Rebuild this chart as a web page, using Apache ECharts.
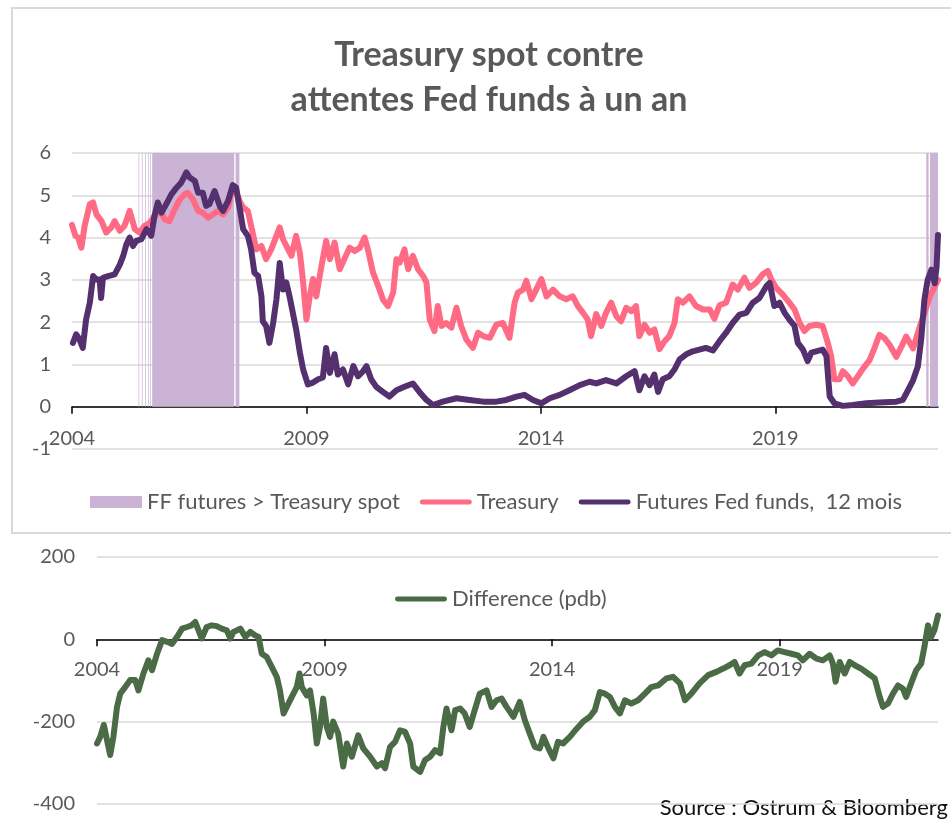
<!DOCTYPE html>
<html><head><meta charset="utf-8">
<script src="https://cdn.jsdelivr.net/npm/echarts@6/dist/echarts.min.js"></script>
<style>html,body{margin:0;padding:0;background:#fff}#c{width:951px;height:829px}</style>
</head><body><div id="c"></div>
<script>
// ---- Data (decimal years) ----
const yearTicks = [2004, 2009, 2014, 2019];

const tsyYears = [2004.00,2004.07,2004.13,2004.20,2004.27,2004.38,2004.45,2004.52,2004.63,2004.73,2004.84,2004.91,2005.02,2005.12,2005.23,2005.34,2005.44,2005.55,2005.66,2005.76,2005.87,2005.98,2006.08,2006.19,2006.30,2006.40,2006.47,2006.58,2006.69,2006.79,2006.90,2007.01,2007.11,2007.22,2007.33,2007.43,2007.51,2007.58,2007.65,2007.75,2007.82,2007.93,2008.04,2008.14,2008.25,2008.36,2008.43,2008.50,2008.61,2008.68,2008.78,2008.86,2008.93,2009.00,2009.07,2009.14,2009.21,2009.32,2009.42,2009.50,2009.60,2009.71,2009.82,2009.92,2010.03,2010.14,2010.24,2010.31,2010.42,2010.53,2010.63,2010.74,2010.85,2010.92,2010.99,2011.09,2011.17,2011.27,2011.38,2011.49,2011.56,2011.63,2011.73,2011.80,2011.88,2011.98,2012.09,2012.20,2012.30,2012.41,2012.55,2012.66,2012.77,2012.91,2013.05,2013.19,2013.33,2013.44,2013.51,2013.62,2013.69,2013.80,2013.90,2014.01,2014.12,2014.26,2014.40,2014.54,2014.68,2014.79,2014.90,2015.00,2015.07,2015.18,2015.29,2015.39,2015.50,2015.61,2015.71,2015.82,2015.93,2016.03,2016.10,2016.21,2016.32,2016.42,2016.53,2016.64,2016.74,2016.85,2016.92,2017.03,2017.17,2017.31,2017.46,2017.60,2017.70,2017.81,2017.95,2018.09,2018.20,2018.34,2018.45,2018.59,2018.73,2018.84,2018.91,2019.02,2019.16,2019.30,2019.41,2019.52,2019.62,2019.73,2019.87,2020.01,2020.12,2020.19,2020.26,2020.37,2020.44,2020.55,2020.65,2020.76,2020.87,2021.01,2021.12,2021.22,2021.33,2021.44,2021.58,2021.69,2021.79,2021.94,2022.08,2022.18,2022.29,2022.40,2022.47];
const tsyVals = [4.30,4.05,4.00,3.76,4.28,4.79,4.83,4.55,4.39,4.12,4.24,4.39,4.16,4.28,4.63,4.20,4.12,4.28,4.35,4.51,4.63,4.43,4.39,4.67,4.90,5.02,5.06,4.90,4.63,4.59,4.47,4.55,4.63,4.55,4.71,5.22,5.06,4.85,4.71,4.63,4.28,3.72,3.80,3.49,3.72,4.04,4.24,3.96,3.72,3.57,4.04,3.64,2.94,2.06,2.61,3.02,2.61,3.32,3.92,3.49,3.88,3.25,3.52,3.76,3.68,3.76,4.00,3.72,3.17,2.86,2.54,2.38,2.70,3.49,3.41,3.72,3.25,3.57,3.25,3.09,2.94,2.06,1.79,2.38,1.91,1.98,1.87,2.34,1.91,1.59,1.39,1.75,1.67,1.63,1.94,1.98,1.63,2.46,2.70,2.77,2.98,2.54,2.77,3.02,2.61,2.77,2.61,2.54,2.61,2.38,2.22,2.06,1.67,2.19,1.91,2.22,2.46,2.14,2.02,2.34,2.26,2.38,1.67,1.94,1.75,1.83,1.36,1.55,1.67,1.98,2.54,2.46,2.61,2.38,2.30,2.30,2.08,2.40,2.46,2.89,2.77,3.05,2.81,2.93,3.13,3.21,3.02,2.81,2.65,2.46,2.30,1.98,1.79,1.91,1.94,1.91,1.51,1.20,0.65,0.65,0.84,0.72,0.55,0.72,0.90,1.10,1.40,1.70,1.62,1.46,1.18,1.42,1.66,1.38,1.89,2.21,2.60,2.84,3.00];

const ffYears = [2004.02,2004.09,2004.16,2004.23,2004.30,2004.38,2004.45,2004.52,2004.59,2004.62,2004.66,2004.77,2004.91,2005.02,2005.09,2005.16,2005.23,2005.30,2005.37,2005.48,2005.59,2005.69,2005.76,2005.83,2005.91,2006.01,2006.12,2006.23,2006.33,2006.44,2006.51,2006.62,2006.69,2006.79,2006.86,2006.93,2007.04,2007.15,2007.22,2007.33,2007.43,2007.50,2007.58,2007.65,2007.75,2007.82,2007.89,2007.97,2008.04,2008.07,2008.14,2008.21,2008.29,2008.36,2008.43,2008.50,2008.57,2008.64,2008.71,2008.78,2008.86,2008.93,2009.03,2009.14,2009.25,2009.35,2009.42,2009.50,2009.60,2009.67,2009.78,2009.89,2010.00,2010.10,2010.21,2010.28,2010.38,2010.49,2010.63,2010.77,2010.92,2011.09,2011.27,2011.41,2011.56,2011.70,2011.91,2012.20,2012.48,2012.77,2013.05,2013.26,2013.48,2013.65,2013.83,2014.01,2014.19,2014.40,2014.61,2014.83,2015.04,2015.18,2015.39,2015.61,2015.82,2016.00,2016.10,2016.21,2016.32,2016.42,2016.50,2016.60,2016.74,2016.85,2016.96,2017.10,2017.24,2017.38,2017.52,2017.67,2017.81,2017.95,2018.09,2018.24,2018.38,2018.52,2018.66,2018.81,2018.88,2018.98,2019.09,2019.20,2019.30,2019.41,2019.48,2019.59,2019.69,2019.77,2019.87,2020.01,2020.09,2020.16,2020.26,2020.44,2020.65,2020.94,2021.22,2021.58,2021.72,2021.83,2021.94,2022.04,2022.11,2022.18,2022.25,2022.33,2022.40,2022.44,2022.47];
const ffVals = [1.51,1.71,1.59,1.39,2.06,2.46,3.09,3.01,3.01,2.57,3.05,3.09,3.13,3.36,3.56,3.84,4.00,3.80,3.92,3.96,4.20,4.04,4.51,4.83,4.59,4.79,5.02,5.18,5.30,5.54,5.42,5.34,5.06,5.06,4.75,4.79,5.10,4.75,4.63,4.87,5.24,5.18,4.67,4.20,4.04,3.72,3.17,3.09,2.61,2.02,1.91,1.51,1.98,2.54,3.40,2.77,2.94,2.61,2.22,1.83,1.28,0.88,0.53,0.57,0.65,0.69,1.39,0.80,1.24,0.76,0.88,0.53,0.96,0.72,0.84,0.96,0.65,0.47,0.35,0.24,0.39,0.47,0.55,0.35,0.16,0.04,0.12,0.20,0.16,0.12,0.12,0.16,0.24,0.28,0.16,0.08,0.20,0.28,0.39,0.51,0.59,0.55,0.63,0.55,0.72,0.84,0.39,0.72,0.51,0.76,0.35,0.65,0.72,0.88,1.12,1.24,1.31,1.35,1.39,1.33,1.55,1.75,1.98,2.18,2.22,2.46,2.57,2.85,2.93,2.38,2.46,2.22,2.06,1.91,1.51,1.35,1.08,1.28,1.31,1.35,1.20,0.24,0.08,0.02,0.04,0.08,0.10,0.12,0.16,0.39,0.63,0.95,1.58,2.53,3.00,3.24,2.92,3.32,4.06];

// periods when FF futures > Treasury spot: [start, end]
const shadeStart = [2005.42,2005.49,2005.56,2005.62,2005.67,2005.71,2007.49,2022.22,2022.30];
const shadeEnd   = [2005.435,2005.505,2005.575,2005.635,2005.685,2007.46,2007.57,2022.27,2022.47];

const diffYears = [2004.00,2004.07,2004.15,2004.22,2004.29,2004.36,2004.44,2004.51,2004.62,2004.73,2004.84,2004.91,2005.02,2005.13,2005.21,2005.32,2005.43,2005.54,2005.65,2005.76,2005.87,2005.98,2006.08,2006.16,2006.23,2006.30,2006.41,2006.52,2006.63,2006.74,2006.85,2006.93,2007.00,2007.15,2007.26,2007.37,2007.47,2007.55,2007.62,2007.73,2007.84,2007.95,2008.02,2008.10,2008.17,2008.28,2008.39,2008.45,2008.50,2008.61,2008.68,2008.76,2008.83,2008.90,2008.97,2009.05,2009.12,2009.19,2009.30,2009.41,2009.49,2009.60,2009.74,2009.85,2010.00,2010.15,2010.26,2010.33,2010.44,2010.55,2010.66,2010.77,2010.88,2010.95,2011.10,2011.21,2011.32,2011.43,2011.54,2011.61,2011.68,2011.79,2011.87,2011.98,2012.08,2012.19,2012.30,2012.41,2012.56,2012.67,2012.78,2012.89,2013.00,2013.15,2013.29,2013.40,2013.51,2013.62,2013.73,2013.81,2013.92,2014.03,2014.13,2014.24,2014.39,2014.54,2014.68,2014.83,2014.94,2015.05,2015.16,2015.27,2015.38,2015.49,2015.60,2015.74,2015.89,2016.04,2016.18,2016.33,2016.51,2016.66,2016.81,2016.92,2017.06,2017.24,2017.43,2017.61,2017.76,2017.90,2018.01,2018.12,2018.23,2018.38,2018.53,2018.67,2018.82,2018.96,2019.11,2019.26,2019.40,2019.51,2019.66,2019.81,2019.95,2020.10,2020.17,2020.23,2020.32,2020.43,2020.54,2020.65,2020.79,2020.94,2021.09,2021.20,2021.27,2021.38,2021.49,2021.60,2021.71,2021.78,2021.89,2022.00,2022.11,2022.18,2022.26,2022.33,2022.40,2022.48];
const diffVals = [-253,-237,-208,-245,-281,-237,-164,-132,-116,-99,-99,-124,-83,-51,-75,-35,-2,-6,-11,6,26,30,34,42,22,2,30,34,32,26,22,2,18,26,6,18,10,6,-35,-43,-67,-91,-124,-180,-164,-140,-116,-83,-116,-136,-124,-180,-253,-213,-144,-213,-237,-200,-229,-309,-253,-285,-233,-265,-285,-309,-301,-313,-261,-249,-221,-225,-253,-309,-322,-293,-285,-269,-277,-213,-168,-221,-172,-168,-180,-213,-172,-132,-124,-164,-148,-144,-164,-188,-152,-196,-229,-261,-265,-237,-265,-289,-249,-253,-237,-217,-200,-188,-172,-128,-132,-140,-164,-180,-148,-156,-148,-132,-116,-112,-95,-91,-107,-148,-132,-107,-87,-79,-71,-63,-55,-83,-63,-59,-39,-31,-39,-27,-31,-35,-39,-51,-35,-47,-51,-39,-59,-103,-55,-83,-55,-63,-71,-83,-95,-140,-164,-156,-132,-112,-120,-140,-107,-75,-59,-19,34,6,22,58];

// ---- Build ----
const zip = (a, b) => a.map((v, i) => [v, b[i]]);
const FONT = 'Lato, "Open Sans", sans-serif';
const GREY = '#595959';
const LINE_ICON = 'path://M0,0 M2,3.5 L50,3.5 A2.5,2.5 0 0 1 50,8.5 L2,8.5 A2.5,2.5 0 0 1 2,3.5 Z M52,12';
const shadeAreas = shadeStart.map((s, i) => [{coord: [s, 0]}, {coord: [shadeEnd[i], 6]}]);

function xAxisFor(grid, max, labelMargin) {
  return {
    gridIndex: grid, type: 'value', min: 2004, max: max,
    splitLine: {show: false},
    axisLine: {show: true, onZero: true, lineStyle: {color: '#000', width: 1.5}},
    axisTick: {show: true, length: 7, customValues: yearTicks, lineStyle: {color: '#000', width: 1.5}},
    axisLabel: {customValues: yearTicks, color: GREY, fontSize: 20, fontFamily: FONT, margin: labelMargin,
                formatter: v => String(Math.round(v))}
  };
}
function yAxisFor(grid, min, max, interval, margin) {
  return {
    gridIndex: grid, type: 'value', min: min, max: max, interval: interval,
    axisLine: {show: false}, axisTick: {show: false},
    splitLine: {show: true, lineStyle: {color: '#D9D9D9', width: 1.5}},
    axisLabel: {color: GREY, fontSize: 20, fontFamily: FONT, margin: margin}
  };
}

const chart = echarts.init(document.getElementById('c'), null, {renderer: 'canvas'});
chart.setOption({
  animation: false,
  backgroundColor: '#fff',
  grid: [
    {left: 72, top: 153, width: 866, height: 296},
    {left: 97, top: 557, width: 841, height: 247}
  ],
  xAxis: [xAxisFor(0, 2022.47, -20), xAxisFor(1, 2022.48, -144)],
  yAxis: [yAxisFor(0, -1, 6, 1, 21), yAxisFor(1, -400, 200, 200, 22)],
  legend: [
    {
      left: 85, top: 486, itemWidth: 52, itemHeight: 12, itemGap: 20,
      textStyle: {color: GREY, fontSize: 22, fontFamily: FONT},
      data: [
        {name: 'FF futures > Treasury spot', icon: 'rect', itemStyle: {color: '#CBB3D5'}},
        {name: 'Treasury', icon: LINE_ICON, itemStyle: {color: '#FF6B85'}},
        {name: 'Futures Fed funds,  12 mois', icon: LINE_ICON, itemStyle: {color: '#54306E'}}
      ]
    },
    {
      left: 390, top: 583, itemWidth: 52, itemHeight: 12,
      textStyle: {color: GREY, fontSize: 22, fontFamily: FONT},
      data: [{name: 'Difference (pdb)', icon: LINE_ICON, itemStyle: {color: '#4B6A46'}}]
    }
  ],
  series: [
    {
      name: 'FF futures > Treasury spot', type: 'line', xAxisIndex: 0, yAxisIndex: 0,
      data: [], symbol: 'none', color: '#CBB3D5',
      itemStyle: {color: '#CBB3D5'}, lineStyle: {color: '#CBB3D5'},
      markArea: {silent: true, itemStyle: {color: '#CBB3D5', opacity: 1}, data: shadeAreas}
    },
    {
      name: 'Treasury', type: 'line', xAxisIndex: 0, yAxisIndex: 0,
      data: zip(tsyYears, tsyVals), symbol: 'none', showSymbol: false, color: '#FF6B85',
      lineStyle: {width: 6, color: '#FF6B85', join: 'round', cap: 'round'}
    },
    {
      name: 'Futures Fed funds,  12 mois', type: 'line', xAxisIndex: 0, yAxisIndex: 0,
      data: zip(ffYears, ffVals), symbol: 'none', showSymbol: false, color: '#54306E',
      lineStyle: {width: 6, color: '#54306E', join: 'round', cap: 'round'}
    },
    {
      name: 'Difference (pdb)', type: 'line', xAxisIndex: 1, yAxisIndex: 1,
      data: zip(diffYears, diffVals), symbol: 'none', showSymbol: false, color: '#4B6A46',
      lineStyle: {width: 6, color: '#4B6A46', join: 'round', cap: 'round'}
    }
  ],
  graphic: [
    {type: 'rect', shape: {x: 12, y: 8, width: 950, height: 525}, silent: true, z: -10,
     style: {fill: 'none', stroke: '#D9D9D9', lineWidth: 2}},
    {type: 'text', x: 489, y: 55, silent: true,
     style: {text: 'Treasury spot contre', align: 'center', verticalAlign: 'middle',
             fill: GREY, font: 'bold 34px ' + FONT}},
    {type: 'text', x: 489, y: 100, silent: true,
     style: {text: 'attentes Fed funds à un an', align: 'center', verticalAlign: 'middle',
             fill: GREY, font: 'bold 34px ' + FONT}},
    {type: 'text', x: 948, y: 808, silent: true,
     style: {text: 'Source : Ostrum & Bloomberg', align: 'right', verticalAlign: 'middle',
             fill: '#111', font: '22px ' + FONT}}
  ]
});
</script></body></html>
